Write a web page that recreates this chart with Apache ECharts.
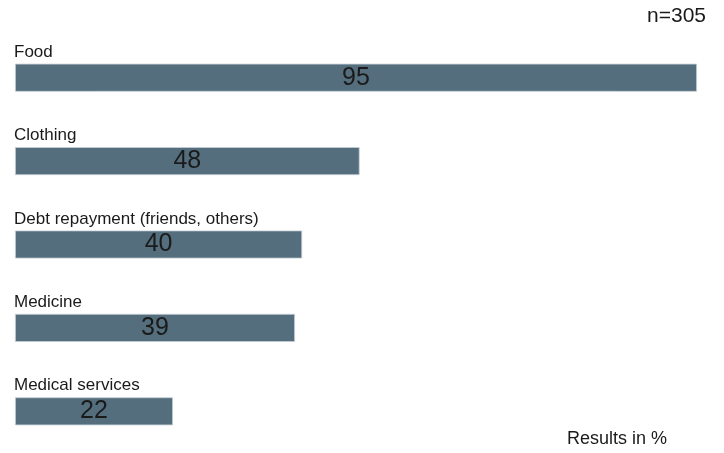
<!DOCTYPE html>
<html>
<head>
<meta charset="utf-8">
<style>
  html, body { margin: 0; padding: 0; background: #ffffff; }
  #chart { width: 724px; height: 453px; }
</style>
<script src="https://cdn.jsdelivr.net/npm/echarts@6/dist/echarts.min.js"></script>
</head>
<body>
<div id="chart"></div>
<script>
// Spending categories and share of respondents (%)
const categories = ['Food', 'Clothing', 'Debt repayment (friends, others)', 'Medicine', 'Medical services'];
const values = [95, 48, 40, 39, 22];
const sampleNote = 'n=305';
const unitNote = 'Results in %';

const FONT = '"Liberation Sans", Arial, sans-serif';
const BAR = '#546e7e';

const chart = echarts.init(document.getElementById('chart'), null, { renderer: 'canvas' });

chart.setOption({
  backgroundColor: '#ffffff',
  animation: false,
  grid: { left: 15, top: 36, right: 0, height: 420, containLabel: false },
  xAxis: {
    // the value axis runs slightly past the right edge of the canvas
    type: 'value', min: 0, max: 98.76, show: false
  },
  yAxis: {
    type: 'category', data: categories, inverse: true, show: false
  },
  graphic: [
    {
      type: 'text', right: 18, top: 6,
      style: { text: sampleNote, font: '21px ' + FONT, fill: '#1a1a1a' }
    },
    {
      type: 'text', left: 567, top: 430,
      style: { text: unitNote, font: '18px ' + FONT, fill: '#1a1a1a' }
    }
  ],
  series: [
    {
      // bars with the value printed in the middle
      type: 'bar',
      data: values,
      barWidth: 28,
      itemStyle: { color: BAR, borderColor: '#c5ced4', borderWidth: 0.8 },
      label: {
        show: true, position: 'inside',
        fontFamily: FONT, fontSize: 25, color: '#1a1a1a',
        formatter: p => p.value
      },
      z: 2
    },
    {
      // invisible twin carrying the category name above each bar
      type: 'bar',
      data: values,
      barWidth: 28,
      barGap: '-100%',
      itemStyle: { color: 'rgba(0,0,0,0)' },
      label: {
        show: true,
        position: [-1, -3],
        align: 'left', verticalAlign: 'bottom',
        fontFamily: FONT, fontSize: 17, color: '#1a1a1a',
        formatter: p => categories[p.dataIndex]
      },
      silent: true,
      z: 3
    }
  ]
});
</script>
</body>
</html>
